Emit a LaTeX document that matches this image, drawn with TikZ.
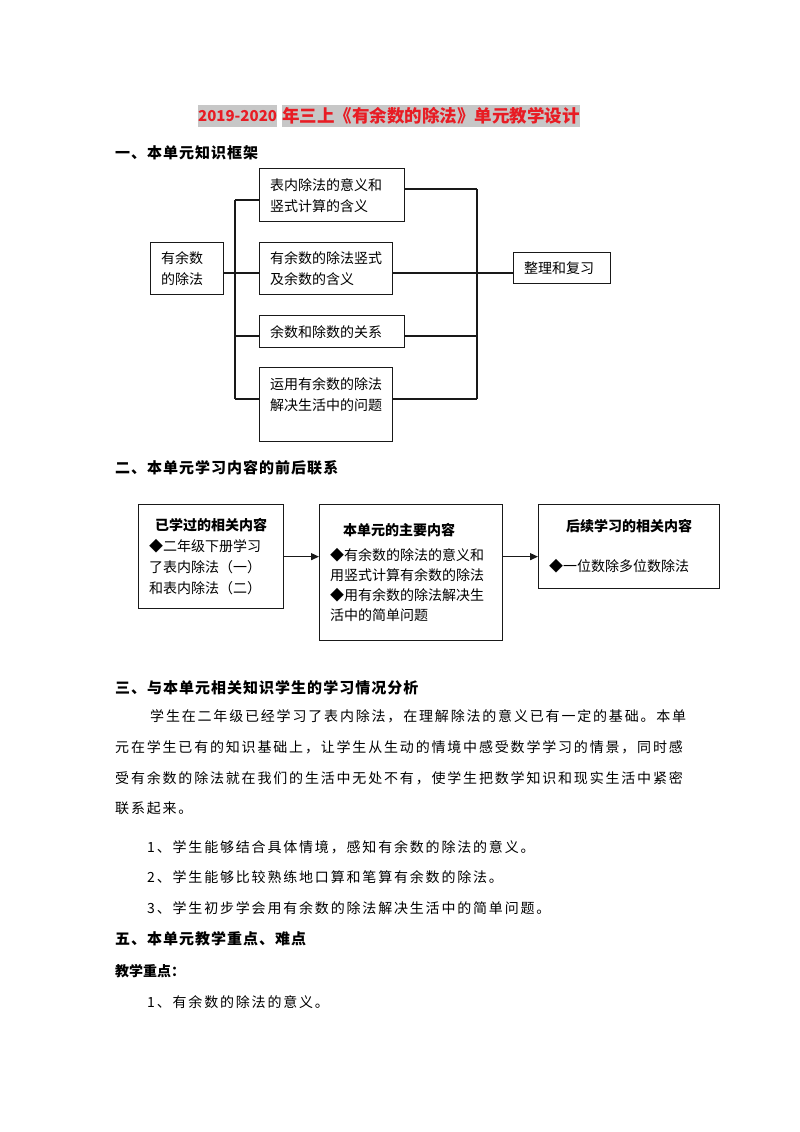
\documentclass[tikz,border=0pt]{standalone}
\usepackage{fontspec}
\setmainfont{Noto Sans CJK SC}
\newfontfamily\gridfont[LetterSpace=13]{Noto Sans CJK SC}
\newfontfamily\headfont[LetterSpace=6.7]{Noto Sans CJK SC}
\usetikzlibrary{arrows.meta, positioning}
\definecolor{titleRed}{RGB}{232,28,36}
\definecolor{markGray}{gray}{0.78}
\definecolor{lineBlack}{gray}{0.1}

\begin{document}
\begin{tikzpicture}[x=1pt, y=-1pt,
    frame/.style={draw=lineBlack, line width=1.3pt, anchor=north west, align=left, inner xsep=10.5pt, font=\fontsize{14pt}{21pt}\selectfont},
    wire/.style={lineBlack, line width=1.3pt},
    titlebox/.style={anchor=west, inner sep=0pt, minimum height=22pt, fill=markGray, text=titleRed, font=\fontsize{17.5pt}{17.5pt}\selectfont\bfseries},
    heading/.style={anchor=west, inner sep=0pt, font=\headfont\fontsize{15pt}{15pt}\selectfont\bfseries},
    bodyline/.style={anchor=west, inner sep=0pt, font=\gridfont\fontsize{14pt}{14pt}\selectfont}]
    \useasboundingbox (0,0) rectangle (800,1132);

    % Title
    \node[titlebox, font=\fontsize{15pt}{15pt}\selectfont\bfseries] (year) at (198,116) {2019-2020};
    \node[titlebox, right=5pt of year] (title) {年三上《有余数的除法》单元教学设计};

    \node[heading] (h1) at (115,153) {一、本单元知识框架};

    \node[frame, text width=52pt, minimum height=52pt] (div) at (150,242) {有余数\\的除法};
    \node[frame, text width=124pt, minimum height=53pt] (tab) at (259,168) {表内除法的意义和\\竖式计算的含义};
    \node[frame, text width=112pt, minimum height=52pt] (vert) at (259,242) {有余数的除法竖式\\及余数的含义};
    \node[frame, text width=124pt, minimum height=32pt] (rel) at (259,315) {余数和除数的关系};
    \node[frame, text width=112pt, minimum height=74pt] (use) at (259,367) {运用有余数的除法\\解决生活中的问题\\\mbox{}};
    \node[frame, text width=76pt, minimum height=31pt] (rev) at (513,252) {整理和复习};

    % Bus lines
    \coordinate (jl1) at (235,200); \coordinate (jl2) at (235,273);
    \coordinate (jl3) at (235,336); \coordinate (jl4) at (235,399);
    \coordinate (jr1) at (477,189); \coordinate (jr3) at (477,336); \coordinate (jr4) at (477,399);
    \draw[wire] (jl1) -- (jl4); \draw[wire] (jr1) -- (jr4);
    \draw[wire] (div.east |- jl2) -- (jl2);
    \draw[wire] (jl1) -- (tab.west |- jl1); \draw[wire] (jl2) -- (vert.west |- jl2);
    \draw[wire] (jl3) -- (rel.west |- jl3); \draw[wire] (jl4) -- (use.west |- jl4);
    \draw[wire] (tab.east |- jr1) -- (jr1); \draw[wire] (vert.east |- jl2) -- (rev.west |- jl2);
    \draw[wire] (rel.east |- jr3) -- (jr3); \draw[wire] (use.east |- jr4) -- (jr4);

    \node[heading] (h2) at (115,468) {二、本单元学习内容的前后联系};

    \node[frame, text width=124pt, minimum height=104pt] (prior) at (138,504) {\makebox[\linewidth]{\bfseries 已学过的相关内容}\\◆二年级下册学习\\了表内除法（一）\\和表内除法（二）};
    \node[frame, text width=162pt, minimum height=136pt, font=\fontsize{14pt}{20pt}\selectfont] (main) at (319,504) {\hspace*{13pt}\textbf{本单元的主要内容}\\[5pt]◆有余数的除法的意义和\\用竖式计算有余数的除法\\◆用有余数的除法解决生\\活中的简单问题};
    \node[frame, text width=160pt, minimum height=84pt, font=\fontsize{14pt}{20pt}\selectfont] (next) at (538,504) {\makebox[\linewidth]{\bfseries 后续学习的相关内容}\\[20pt]◆一位数除多位数除法};

    % Arrows
    \draw[wire, -{Triangle[length=8pt, width=7pt]}] (prior.east) -- (main.west |- prior.east);
    \draw[wire, -{Triangle[length=8pt, width=7pt]}] (main.east |- prior.east) -- (next.west |- prior.east);

    \node[heading] (h3) at (115,688) {三、与本单元相关知识学生的学习情况分析};
    \node[bodyline] (p1) at (150,716) {学生在二年级已经学习了表内除法，在理解除法的意义已有一定的基础。本单};
    \node[bodyline] (p2) at (115,747) {元在学生已有的知识基础上，让学生从生动的情境中感受数学学习的情景，同时感};
    \node[bodyline] (p3) at (115,778) {受有余数的除法就在我们的生活中无处不有，使学生把数学知识和现实生活中紧密};
    \node[bodyline] (p4) at (115,808) {联系起来。};
    \node[bodyline] (g1) at (147,847) {1、学生能够结合具体情境，感知有余数的除法的意义。};
    \node[bodyline] (g2) at (147,877) {2、学生能够比较熟练地口算和笔算有余数的除法。};
    \node[bodyline] (g3) at (147,908) {3、学生初步学会用有余数的除法解决生活中的简单问题。};

    \node[heading] (h5) at (115,939) {五、本单元教学重点、难点};
    \node[anchor=west, inner sep=0pt, font=\fontsize{14pt}{14pt}\selectfont\bfseries] (key) at (115,971) {教学重点：};
    \node[bodyline] (k1) at (147,1002) {1、有余数的除法的意义。};
\end{tikzpicture}
\end{document}
